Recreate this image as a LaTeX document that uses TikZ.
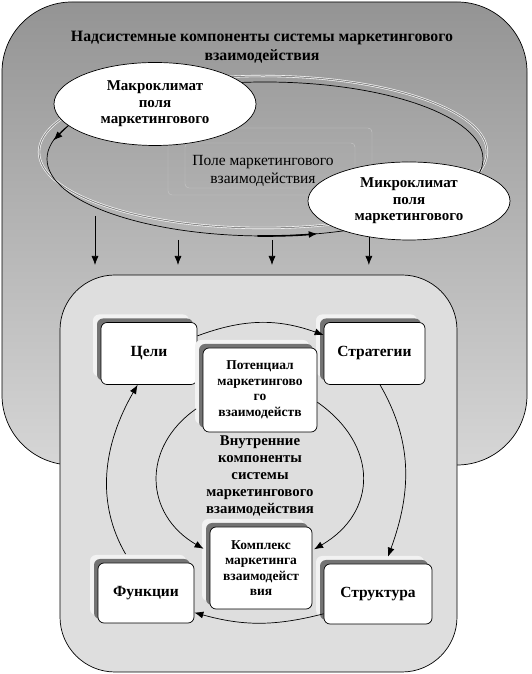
\documentclass[tikz,border=0pt]{standalone}
\usepackage{fontspec}
\setmainfont{Liberation Serif}
\usetikzlibrary{shapes.geometric,shadows,arrows.meta,calc}
\tikzset{
Arr/.style={-{Latex[length=9pt,width=7pt]},line width=0.7pt},
Title/.style={align=center,font=\bfseries\fontsize{15.8}{19}\selectfont},
Climate/.style={ellipse,draw,fill=white,line width=0.7pt,inner sep=0pt,align=center,font=\bfseries\fontsize{15}{16.5}\selectfont},
Box/.style={draw,fill=white,rounded corners=6pt,line width=0.7pt,inner sep=0pt,align=center,
	font=\bfseries\fontsize{15.5}{17}\selectfont,
	general shadow={fill=black!5,shadow xshift=-8pt,shadow yshift=8pt},
	general shadow={fill=black!55,shadow xshift=-4pt,shadow yshift=4pt}},
SmallBox/.style={Box,font=\bfseries\fontsize{13.5}{15.5}\selectfont}
}

\begin{document}
\begin{tikzpicture}[x=1pt,y=1pt]
	\useasboundingbox (0,0) rectangle (531,674);
	
	% outer and inner areas
	\draw[top color=black!42,bottom color=black!16,line width=0.7pt,rounded corners=70pt] (2,209) rectangle (527,672);
	\draw[fill=black!13,line width=0.7pt,rounded corners=55pt] (60,2) rectangle (457,399);
	
	\node[Title] (Supra) at (262,627) {Надсистемные компоненты системы маркетингового\\взаимодействия};
	
	\begin{scope}% field of interaction
		\coordinate (RingC) at (265,515);
		\draw[draw=white,double=black!45,double distance=1pt,line width=0.6pt] (263,522) ellipse [x radius=224,y radius=76];
		\draw[line width=0.7pt] (RingC) ellipse [x radius=218,y radius=77];
		\draw[black!22,rounded corners=4pt] (168,479) rectangle (372,546);
		\draw[black!22,rounded corners=4pt] (185,486) rectangle (355,531);
		\node[align=center,font=\fontsize{15.5}{18}\selectfont] (Field) at (263,503) {Поле маркетингового\\взаимодействия};
	\end{scope}
	
	\node[Climate,minimum width=202pt,minimum height=83pt] (Macro) at (155,570) {Макроклимат\\поля\\маркетингового};
	\node[Climate,minimum width=202pt,minimum height=78pt] (Micro) at (409,473) {Микроклимат\\поля\\маркетингового};
	
	\coordinate (RingL) at ($(RingC)+(166:218 and 77)$);
	\draw[Arr] (Macro.194) -- (RingL);
	\draw[Arr,line width=1.6pt] ($(RingC)+(268:218 and 77)$) arc[start angle=268,end angle=284,x radius=218,y radius=77];
	
	% arrows down to the inner system
	\foreach \x/\y [count=\i] in {95/458,178/434,272/434}{
		\coordinate (Top\i) at (\x,\y);
		\coordinate (Low\i) at (\x,409);
		\draw[Arr] (Top\i) -- (Low\i);
	}
	\draw[Arr] (Micro.222) -- (Micro.222 |- Low1);
	
	\begin{scope}% inner components
		\node[Box,minimum width=96pt,minimum height=62pt] (Goals) at (149,320.5) {Цели};
		\node[Box,minimum width=101pt,minimum height=62pt] (Strategy) at (374.5,320.5) {Стратегии};
		\node[SmallBox,minimum width=114pt,minimum height=84pt] (Potential) at (260,284) {Потенциал\\маркетингово\\го\\взаимодейств};
		\node[SmallBox,minimum width=102pt,minimum height=82pt] (Complex) at (261,106) {Комплекс\\маркетинга\\взаимодейст\\вия};
		\node[Box,minimum width=96pt,minimum height=60pt] (Functions) at (146,81) {Функции};
		\node[Box,minimum width=108pt,minimum height=60pt] (Structure) at (378,80) {Структура};
		\node[Title,font=\bfseries\fontsize{14.8}{17}\selectfont] (Inner) at (260,198) {Внутренние\\компоненты\\системы\\маркетингового\\взаимодействия};
	\end{scope}
	
	\draw[Arr] (Goals.20) to[bend left=20] (Strategy.160);
	\draw[Arr] (Strategy.-80) to[out=-60,in=70] ([xshift=10pt,yshift=7pt]Structure.north);
	\draw[Arr] (Structure.200) to[bend left=15] (Functions.-22);
	\draw[Arr,shorten <=10pt] (Functions.117) to[out=120,in=-120] (Goals.-110);
	\draw[Arr,shorten <=8pt,shorten >=7pt] (Potential.194) to[out=215,in=150,looseness=1.3] (Complex.163);
	\draw[Arr,shorten >=2pt] (Potential.-12) to[out=-35,in=30,looseness=1.3] (Complex.19);
\end{tikzpicture}
\end{document}
